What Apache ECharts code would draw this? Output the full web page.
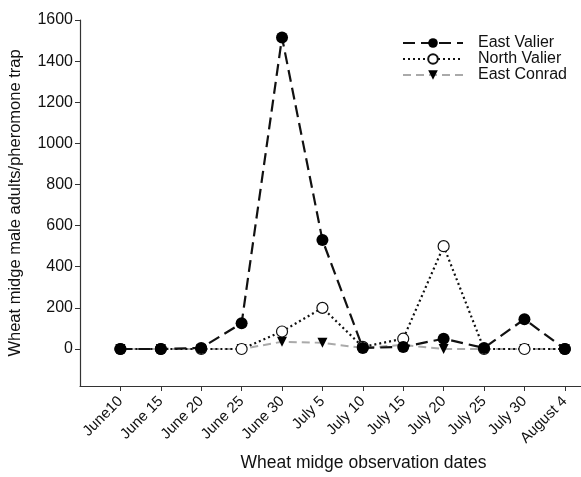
<!DOCTYPE html>
<html><head><meta charset="utf-8">
<script src="https://cdn.jsdelivr.net/npm/echarts@6/dist/echarts.min.js"></script>
<style>html,body{margin:0;padding:0;background:#fff}#c{width:581px;height:477px}</style>
</head><body><div id="c"></div>
<script>
var categories = ["June10","June 15","June 20","June 25","June 30","July 5","July 10","July 15","July 20","July 25","July 30","August 4"];
var eastValier = [0,0,5,125,1515,530,5,10,50,5,145,0];
var northValier = [0,0,0,0,85,200,10,50,500,0,0,0];
var eastConrad = [0,0,0,0,35,30,5,20,0,0,0,0];
var yTicks = [0,200,400,600,800,1000,1200,1400,1600];

function pairs(arr){ return arr.map(function(v,i){ return [i,v]; }); }
var font = 'Liberation Sans, Arial, sans-serif';
var xIdx = categories.map(function(c,i){ return i; });

var chart = echarts.init(document.getElementById('c'));
chart.setOption({
  animation:false,
  backgroundColor:'#fff',
  grid:{left:80, top:20, right:0, bottom:91, containLabel:false, outerBoundsMode:'none'},
  legend:{
    orient:'vertical', left:397, top:30, itemWidth:60, itemHeight:12, itemGap:0,
    textStyle:{fontFamily:font, fontSize:16, color:'#111', padding:[0,0,0,10]},
    data:['East Valier','North Valier','East Conrad']
  },
  xAxis:{
    type:'value', min:-1, max:11.4,
    name:'Wheat midge observation dates', nameLocation:'middle', nameGap:68,
    nameTextStyle:{fontFamily:font, fontSize:17.5, color:'#111', padding:[0,0,0,66]},
    axisLine:{show:true, onZero:false, lineStyle:{color:'#333', width:1.2}},
    axisTick:{show:true, length:5, customValues:xIdx, lineStyle:{color:'#333'}},
    splitLine:{show:false},
    axisLabel:{customValues:xIdx, rotate:45, fontFamily:font, fontSize:15, color:'#111', margin:13,
      formatter:function(v){ return categories[Math.round(v)] || ''; }}
  },
  yAxis:{
    type:'value', min:-180, max:1600,
    name:'Wheat midge male adults/pheromone trap', nameLocation:'middle', nameGap:56,
    nameTextStyle:{fontFamily:font, fontSize:16.5, color:'#111'},
    axisLine:{show:true, onZero:false, lineStyle:{color:'#333', width:1.2}},
    axisTick:{show:true, length:5, customValues:yTicks, lineStyle:{color:'#333'}},
    splitLine:{show:false},
    axisLabel:{customValues:yTicks, fontFamily:font, fontSize:16, color:'#111', margin:7,
      formatter:function(v){ return String(v); }}
  },
  series:[
    {name:'East Conrad', type:'line', data:pairs(eastConrad), z:2,
      symbol:'triangle', symbolRotate:180, symbolSize:10,
      lineStyle:{color:'#aaaaaa', width:2, type:[8,5]},
      itemStyle:{color:'#000', borderColor:'#000', borderWidth:0}},
    {name:'North Valier', type:'line', data:pairs(northValier), z:3,
      symbol:'circle', symbolSize:11,
      lineStyle:{color:'#111', width:2.2, type:[2,3]},
      itemStyle:{color:'#fff', borderColor:'#111', borderWidth:1.2}},
    {name:'East Valier', type:'line', data:pairs(eastValier), z:4,
      symbol:'circle', symbolSize:12,
      lineStyle:{color:'#111', width:2.2, type:[12,6]},
      itemStyle:{color:'#000', borderColor:'#000', borderWidth:0}}
  ]
});
</script></body></html>
